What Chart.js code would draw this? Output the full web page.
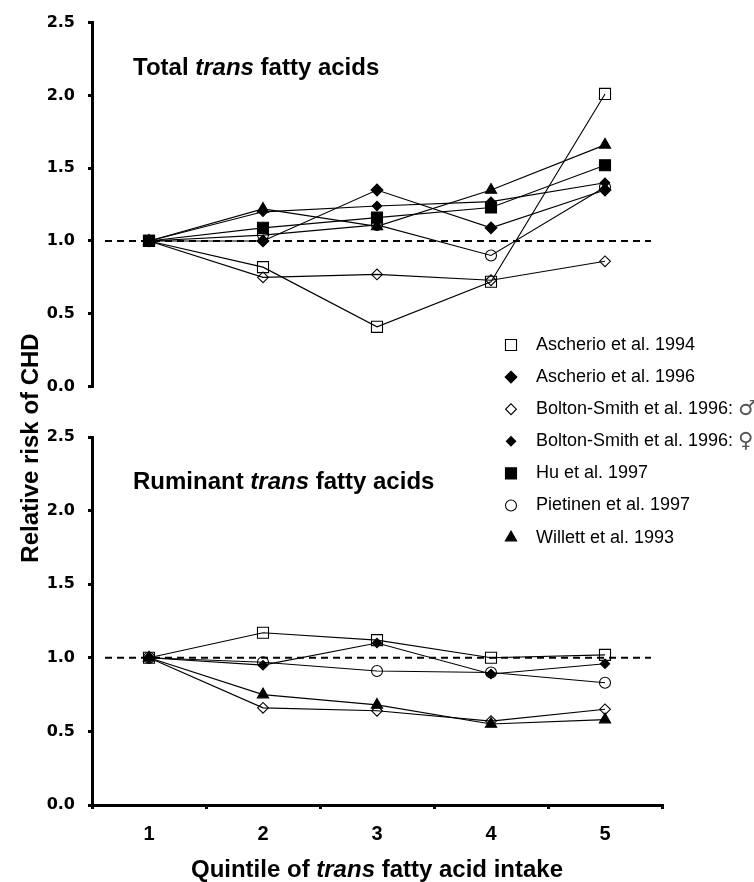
<!DOCTYPE html>
<html>
<head>
<meta charset="utf-8">
<title>Relative risk of CHD by quintile of trans fatty acid intake</title>
<script src="https://cdn.jsdelivr.net/npm/chart.js@4.4.1/dist/chart.umd.min.js"></script>
<style>
  html, body { margin: 0; padding: 0; background: #fff; }
  #wrap { position: relative; width: 754px; height: 882px; }
  #wrap canvas { position: absolute; left: 0; top: 0; }
</style>
</head>
<body>
<div id="wrap">
  <canvas id="ruminant" width="754" height="882"></canvas>
  <canvas id="total" width="754" height="882"></canvas>
</div>
<script>
// ---- data -------------------------------------------------------------
const quintiles = ['1', '2', '3', '4', '5'];
const yTicks = [0, 0.5, 1.0, 1.5, 2.0, 2.5];
const referenceRisk = 1.0;

const studies = [
  'Ascherio et al. 1994',
  'Ascherio et al. 1996',
  'Bolton-Smith et al. 1996: \u2642',
  'Bolton-Smith et al. 1996: \u2640',
  'Hu et al. 1997',
  'Pietinen et al. 1997',
  'Willett et al. 1993'
];

// Total trans fatty acids
const ascherio1994Total = [1.00, 0.82, 0.41, 0.72, 2.01];
const ascherio1996Total = [1.00, 1.00, 1.35, 1.09, 1.35];
const boltonMenTotal    = [1.00, 0.75, 0.77, 0.73, 0.86];
const boltonWomenTotal  = [1.00, 1.20, 1.24, 1.27, 1.40];
const huTotal           = [1.00, 1.09, 1.16, 1.23, 1.52];
const pietinenTotal     = [1.00, 1.04, 1.11, 0.90, 1.37];
const willettTotal      = [1.00, 1.22, 1.10, 1.35, 1.66];

// Ruminant trans fatty acids
const ascherio1994Ruminant = [1.00, 1.17, 1.12, 1.00, 1.02];
const boltonMenRuminant    = [1.00, 0.66, 0.64, 0.57, 0.65];
const boltonWomenRuminant  = [1.00, 0.95, 1.10, 0.89, 0.96];
const pietinenRuminant     = [1.00, 0.97, 0.91, 0.90, 0.83];
const willettRuminant      = [1.00, 0.75, 0.68, 0.55, 0.58];

// ---- marker styles per study ------------------------------------------
const OPEN = 'rgba(0,0,0,0)';
const markers = {
  'Ascherio et al. 1994':             { pointStyle: 'rect',     radius: 7.8, fill: OPEN },
  'Ascherio et al. 1996':             { pointStyle: 'rectRot',  radius: 5.9, fill: '#000' },
  'Bolton-Smith et al. 1996: \u2642': { pointStyle: 'rectRot',  radius: 5.4, fill: OPEN },
  'Bolton-Smith et al. 1996: \u2640': { pointStyle: 'rectRot',  radius: 4.7, fill: '#000' },
  'Hu et al. 1997':                   { pointStyle: 'rect',     radius: 7.8, fill: '#000' },
  'Pietinen et al. 1997':             { pointStyle: 'circle',   radius: 5.5, fill: OPEN },
  'Willett et al. 1993':              { pointStyle: 'triangle', radius: 6.5, fill: '#000' }
};

function series(label, values) {
  const m = markers[label];
  return {
    label: label,
    data: values,
    borderColor: '#000',
    borderWidth: 1.1,
    tension: 0,
    fill: false,
    clip: false,
    pointStyle: m.pointStyle,
    pointRadius: m.radius,
    pointHoverRadius: m.radius,
    pointBackgroundColor: m.fill,
    pointBorderColor: '#000',
    pointBorderWidth: 1.1
  };
}

const FONT = '"Liberation Sans", Arial, Helvetica, sans-serif';
const SEX_SYMBOLS = ['\u2642', '\u2640'];

// ---- helpers for drawn text ---------------------------------------------
function drawRuns(ctx, runs, x, y, size, align) {
  const fontFor = (italic) => (italic ? 'italic ' : '') + 'bold ' + size + 'px ' + FONT;
  let total = 0;
  runs.forEach(r => { ctx.font = fontFor(r[1]); total += ctx.measureText(r[0]).width; });
  let cx = align === 'center' ? x - total / 2 : x;
  ctx.textAlign = 'left';
  runs.forEach(r => {
    ctx.font = fontFor(r[1]);
    ctx.fillText(r[0], cx, y);
    cx += ctx.measureText(r[0]).width;
  });
}

function fallbackPoint(ctx, o, x, y) {
  const r = o.radius;
  ctx.beginPath();
  if (o.pointStyle === 'circle') {
    ctx.arc(x, y, r, 0, Math.PI * 2);
  } else if (o.pointStyle === 'rect') {
    const s = Math.SQRT1_2 * r;
    ctx.rect(x - s, y - s, 2 * s, 2 * s);
  } else if (o.pointStyle === 'rectRot') {
    ctx.moveTo(x - r, y); ctx.lineTo(x, y - r); ctx.lineTo(x + r, y); ctx.lineTo(x, y + r);
    ctx.closePath();
  } else if (o.pointStyle === 'triangle') {
    let a = 0;
    ctx.moveTo(x + Math.sin(a) * r, y - Math.cos(a) * r);
    a += 2 * Math.PI / 3; ctx.lineTo(x + Math.sin(a) * r, y - Math.cos(a) * r);
    a += 2 * Math.PI / 3; ctx.lineTo(x + Math.sin(a) * r, y - Math.cos(a) * r);
    ctx.closePath();
  }
  ctx.fill();
  if (o.borderWidth > 0) ctx.stroke();
}
const drawPoint = (Chart.helpers && Chart.helpers.drawPoint) || fallbackPoint;

// dashed reference line at RR = 1.0
const referenceLine = {
  id: 'referenceLine',
  beforeDatasetsDraw(chart) {
    const { ctx, chartArea } = chart;
    const y = chart.scales.y.getPixelForValue(referenceRisk);
    ctx.save();
    ctx.strokeStyle = '#000';
    ctx.lineWidth = 2;
    ctx.setLineDash([7, 5]);
    ctx.beginPath();
    ctx.moveTo(chartArea.left + 13, y);
    ctx.lineTo(chartArea.right - 11, y);
    ctx.stroke();
    ctx.restore();
  }
};

function panelTitle(runs) {
  return {
    id: 'panelTitle',
    afterDraw(chart) {
      const { ctx, chartArea } = chart;
      ctx.save();
      ctx.fillStyle = '#000';
      ctx.textBaseline = 'alphabetic';
      drawRuns(ctx, runs, chartArea.left + 41, chartArea.top + 52, 24, 'left');
      ctx.restore();
    }
  };
}

// figure-wide texts: axis titles and legend
const figureTexts = {
  id: 'figureTexts',
  afterDraw(chart) {
    const { ctx, chartArea } = chart;
    ctx.save();
    ctx.fillStyle = '#000';
    ctx.textBaseline = 'alphabetic';
    // x axis title
    drawRuns(ctx, [['Quintile of ', false], ['trans', true], [' fatty acid intake', false]],
      (chartArea.left + chartArea.right) / 2, 876.5, 24, 'center');
    // y axis title, shared by both panels
    ctx.save();
    ctx.translate(37.5, 448);
    ctx.rotate(-Math.PI / 2);
    ctx.font = 'bold 24px ' + FONT;
    ctx.textAlign = 'center';
    ctx.fillText('Relative risk of CHD', 0, 0);
    ctx.restore();
    // legend
    ctx.textBaseline = 'middle';
    ctx.textAlign = 'left';
    studies.forEach((name, i) => {
      const y = 345 + i * 32.1;
      const m = markers[name];
      ctx.fillStyle = m.fill;
      ctx.strokeStyle = '#000';
      ctx.lineWidth = 1.1;
      drawPoint(ctx, { pointStyle: m.pointStyle, radius: m.radius, rotation: 0, borderWidth: 1.1 }, 511, y);
      const last = name.slice(-1);
      const hasSymbol = SEX_SYMBOLS.includes(last);
      const text = hasSymbol ? name.slice(0, -1) : name;
      ctx.fillStyle = '#000';
      ctx.font = '18px ' + FONT;
      ctx.fillText(text, 536, y);
      if (hasSymbol) {
        const w = ctx.measureText(text).width;
        ctx.fillStyle = '#555';
        ctx.font = '21px "DejaVu Sans", sans-serif';
        ctx.fillText(last, 536 + w, y);
      }
    });
    ctx.restore();
  }
};

function panelOptions(padTop, padBottom, showX) {
  return {
    responsive: false,
    animation: false,
    events: [],
    layout: { padding: { left: 0, right: 92, top: padTop, bottom: padBottom } },
    plugins: { legend: { display: false }, tooltip: { enabled: false } },
    scales: {
      x: {
        type: 'category',
        offset: true,
        display: showX,
        afterFit(s) { s.height = showX ? 77 : 0; },
        grid: { offset: true, drawOnChartArea: false, drawTicks: true, tickLength: 4,
                tickWidth: 3, lineWidth: 3, color: '#000' },
        border: { display: true, color: '#000', width: 3 },
        ticks: { color: '#000', padding: 13,
                 font: { family: FONT, weight: 'bold', size: 20 } }
      },
      y: {
        min: 0,
        max: 2.5,
        afterFit(s) { s.width = 92; },
        afterBuildTicks(s) { s.ticks = yTicks.map(v => ({ value: v })); },
        grid: { drawOnChartArea: false, drawTicks: true, tickLength: 4,
                tickWidth: 3, lineWidth: 3, color: '#000' },
        border: { display: true, color: '#000', width: 3 },
        ticks: { color: '#000', padding: 13,
                 font: { family: '"DejaVu Sans", sans-serif', weight: 'bold', size: 16 },
                 callback: v => Number(v).toFixed(1) }
      }
    }
  };
}

// ---- top panel: total trans fatty acids ---------------------------------
new Chart(document.getElementById('total'), {
  type: 'line',
  data: {
    labels: quintiles,
    datasets: [
      series(studies[0], ascherio1994Total),
      series(studies[1], ascherio1996Total),
      series(studies[2], boltonMenTotal),
      series(studies[3], boltonWomenTotal),
      series(studies[4], huTotal),
      series(studies[5], pietinenTotal),
      series(studies[6], willettTotal)
    ]
  },
  options: panelOptions(19, 882 - 386.5, false),
  plugins: [referenceLine, panelTitle([['Total ', false], ['trans', true], [' fatty acids', false]])]
});

// ---- bottom panel: ruminant trans fatty acids ---------------------------
new Chart(document.getElementById('ruminant'), {
  type: 'line',
  data: {
    labels: quintiles,
    datasets: [
      series(studies[0], ascherio1994Ruminant),
      series(studies[2], boltonMenRuminant),
      series(studies[3], boltonWomenRuminant),
      series(studies[5], pietinenRuminant),
      series(studies[6], willettRuminant)
    ]
  },
  options: panelOptions(437, 0, true),
  plugins: [referenceLine, panelTitle([['Ruminant ', false], ['trans', true], [' fatty acids', false]]), figureTexts]
});
</script>
</body>
</html>
